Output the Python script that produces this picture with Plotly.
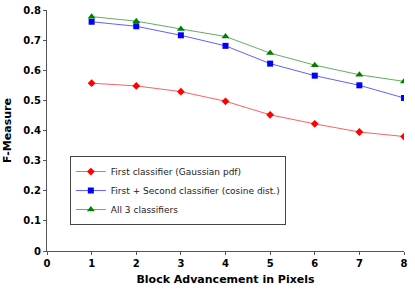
import plotly.graph_objects as go

pixels = [1, 2, 3, 4, 5, 6, 7, 8]
first = [0.557, 0.548, 0.529, 0.497, 0.452, 0.422, 0.395, 0.380]
first_second = [0.761, 0.746, 0.716, 0.681, 0.622, 0.582, 0.550, 0.508]
all_three = [0.778, 0.763, 0.737, 0.712, 0.657, 0.617, 0.585, 0.563]
names = ["First classifier (Gaussian pdf)",
         "First + Second classifier (cosine dist.)",
         "All 3 classifiers"]

fig = go.Figure()
fig.add_trace(go.Scatter(x=pixels, y=first, name=names[0], mode="lines+markers",
                         line=dict(color="#ff6060", width=1),
                         marker=dict(symbol="diamond", size=6, color="#ff0000")))
fig.add_trace(go.Scatter(x=pixels, y=first_second, name=names[1], mode="lines+markers",
                         line=dict(color="#6060ff", width=1),
                         marker=dict(symbol="square", size=6, color="#0000ff")))
fig.add_trace(go.Scatter(x=pixels, y=all_three, name=names[2], mode="lines+markers",
                         line=dict(color="#60b060", width=1),
                         marker=dict(symbol="triangle-up", size=7, color="#008000")))

fig.update_layout(
    width=415, height=291,
    margin=dict(l=47, r=11, t=10, b=40, autoexpand=False),
    plot_bgcolor="white", paper_bgcolor="white",
    font=dict(family="DejaVu Sans", color="black"),
    showlegend=True,
    legend=dict(x=0.064, y=0.394, xanchor="left", yanchor="top",
                bordercolor="#444", borderwidth=1, bgcolor="white",
                font=dict(size=9, color="#222"), tracegroupgap=0,
                itemwidth=30),
    xaxis=dict(range=[0, 8], tickvals=list(range(9)), showgrid=False, zeroline=False,
               automargin=False,
               showline=True, linecolor="#555", linewidth=1, ticks="outside", ticklen=3,
               tickcolor="#555",
               tickfont=dict(size=10, family="DejaVu Sans", weight="bold"),
               title=dict(text="<b>Block Advancement in Pixels</b>", font=dict(size=11), standoff=7)),
    yaxis=dict(range=[0, 0.8], tickvals=[0, 0.1, 0.2, 0.3, 0.4, 0.5, 0.6, 0.7, 0.8],
               ticktext=["0", "0.1", "0.2", "0.3", "0.4", "0.5", "0.6", "0.7", "0.8"],
               showgrid=False, zeroline=False, automargin=False,
               showline=True, linecolor="#555", linewidth=1, ticks="outside", ticklen=3,
               tickcolor="#555",
               tickfont=dict(size=10, family="DejaVu Sans", weight="bold"),
               title=dict(text="<b>F-Measure</b>", font=dict(size=11), standoff=9)),
)

fig.write_html("out.html", config={"displayModeBar": False},
               post_script="document.body.style.margin='0';")
